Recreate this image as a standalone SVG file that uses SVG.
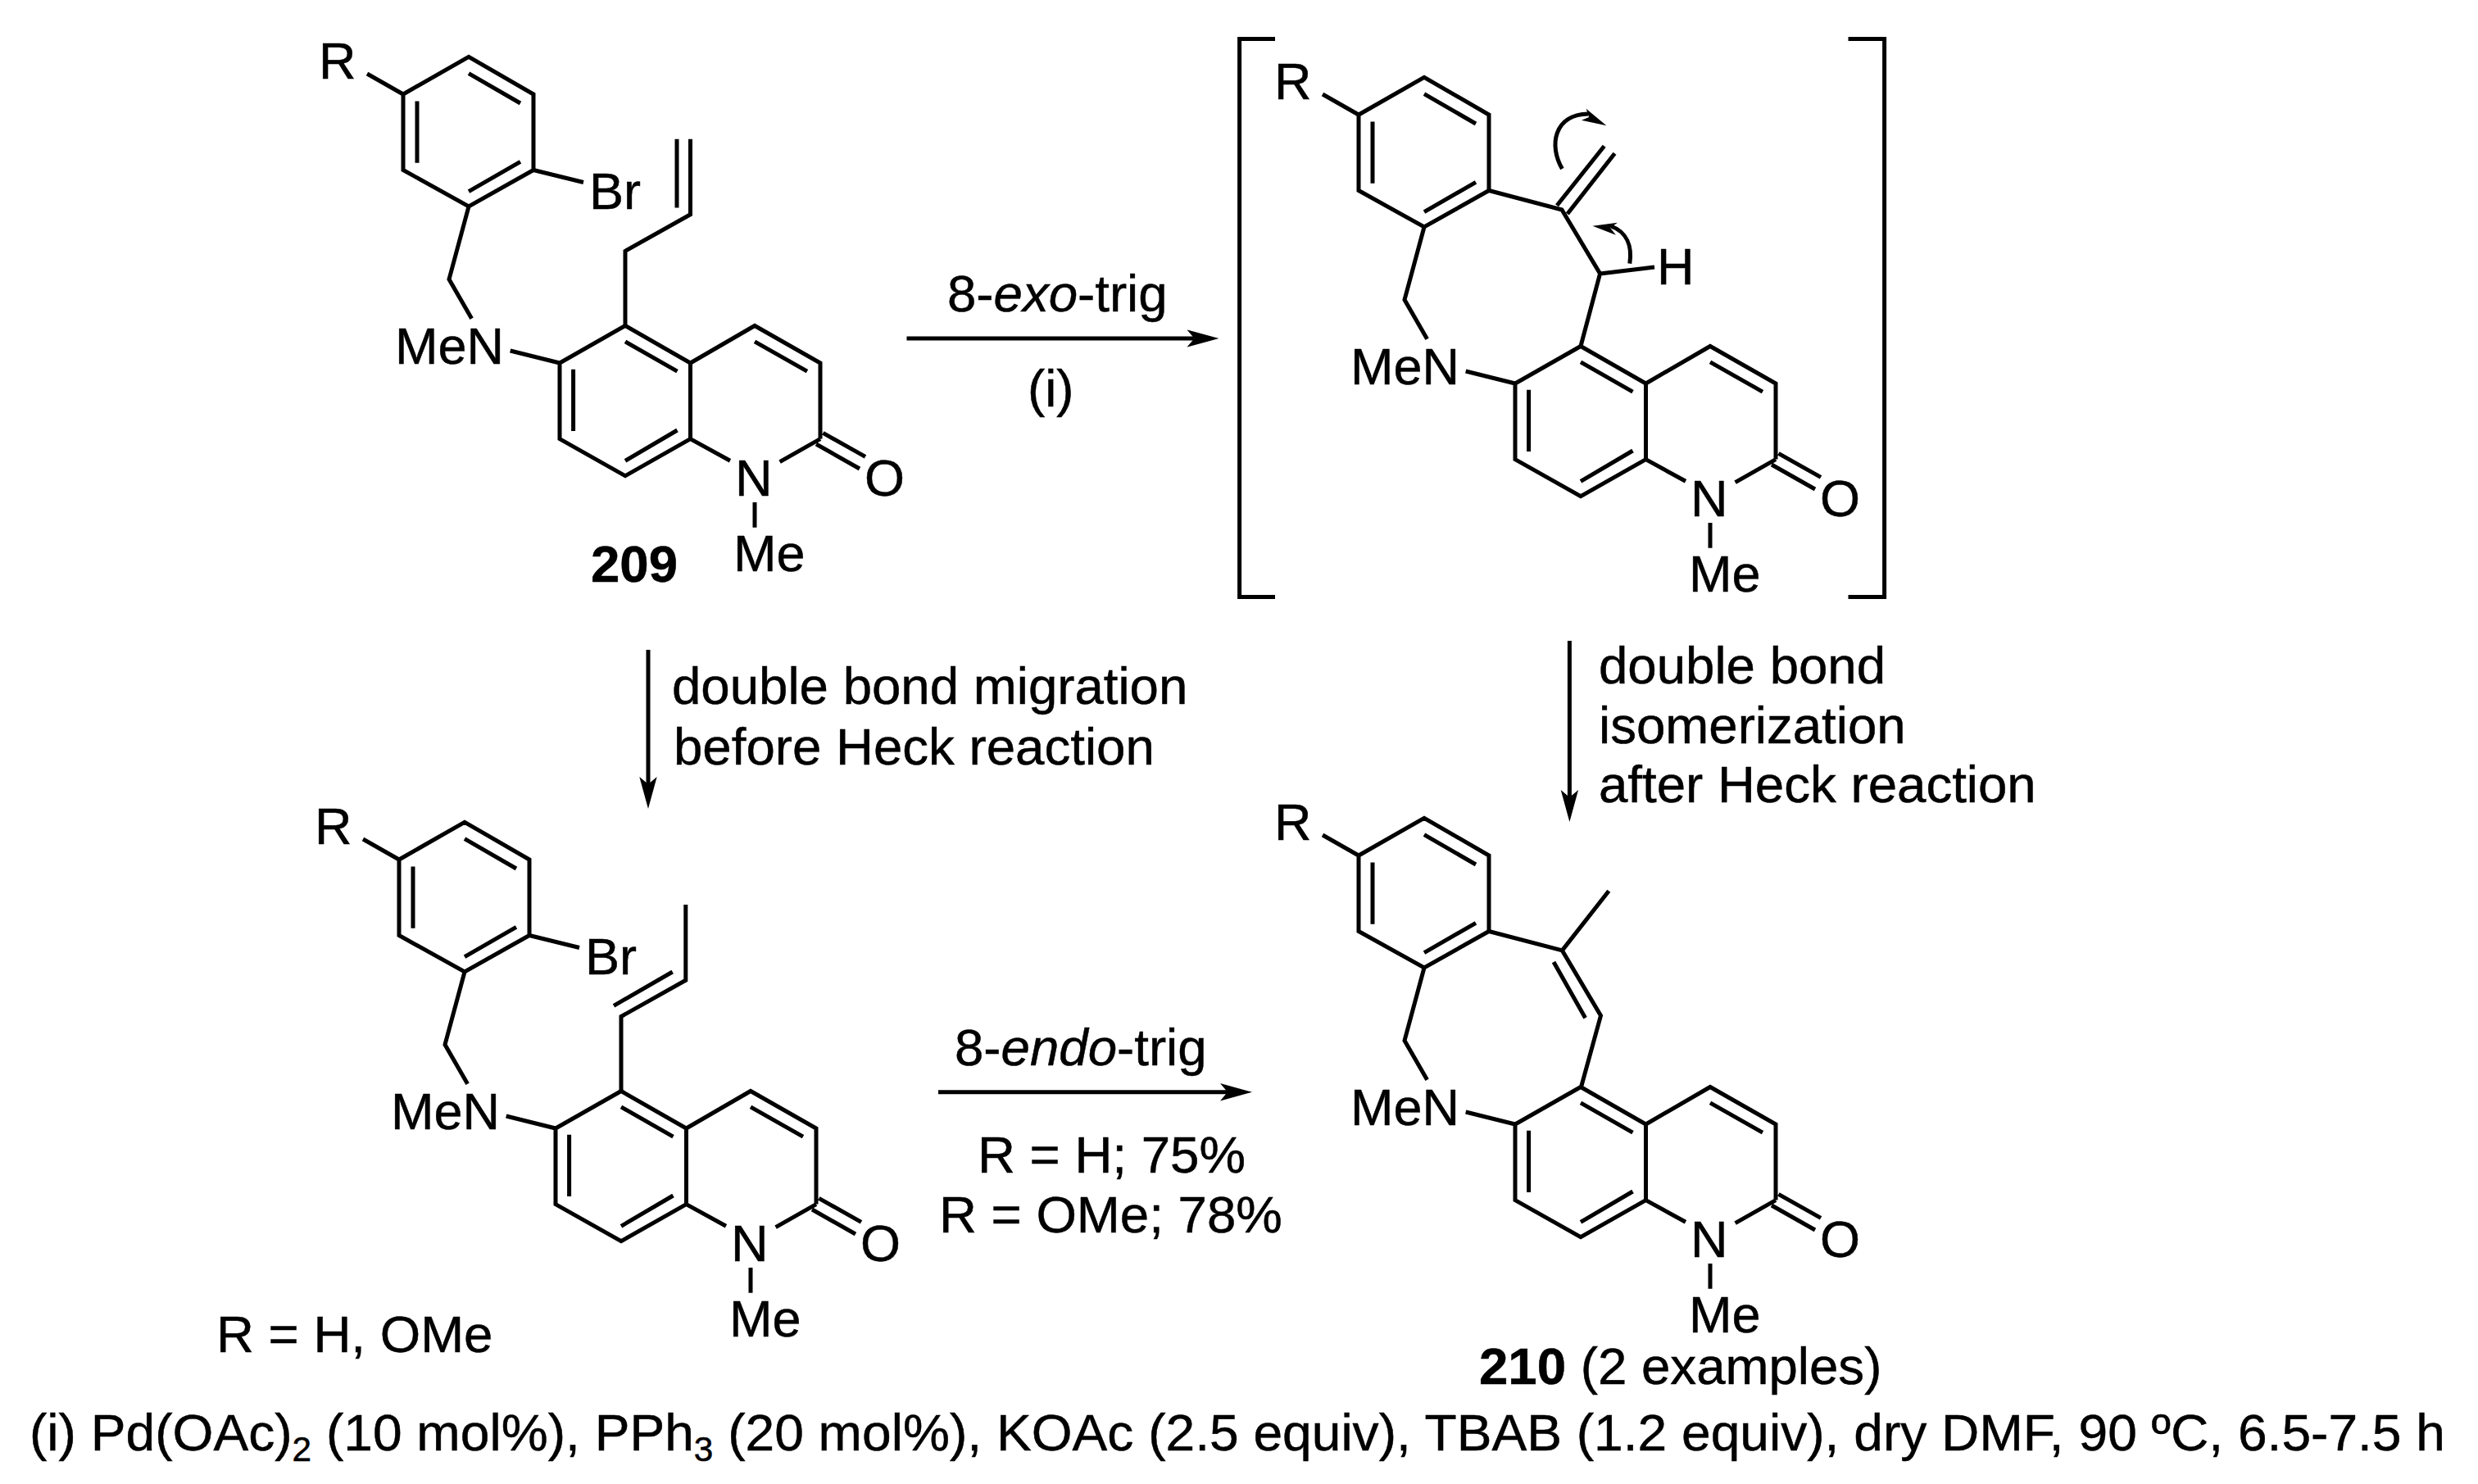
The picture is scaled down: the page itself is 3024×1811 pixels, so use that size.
<svg xmlns="http://www.w3.org/2000/svg" xmlns:xlink="http://www.w3.org/1999/xlink" width="3024" height="1811" viewBox="0 0 3024 1811">
<style>
text{font-family:"Liberation Sans",Arial,sans-serif;fill:#000;stroke:#000;stroke-width:.5}
.l{font-size:63px}
.c{font-size:63.6px}
.b{font-weight:bold}
.i{font-style:italic}
.s{font-size:42px}
.bond{fill:none;stroke:#000;stroke-width:5;stroke-linejoin:miter;stroke-linecap:butt}
.arr{fill:none;stroke:#000;stroke-width:5;marker-end:url(#head)}
.curl{fill:none;stroke:#000;stroke-width:5}
</style>
<defs>
<marker id="head" markerUnits="userSpaceOnUse" markerWidth="40" markerHeight="24" refX="9" refY="12" orient="auto"><path d="M0 1.3L39 12L0 22.7L9 12Z" fill="#000"/></marker>
<path id="core" class="bond" d="M448 90L492 115L572 69.3L651 115V207.5L572 252L492 207.5V115M572 89.7L635 126M509 123.6V198.7M572 233.6L635 197.3M572 252L548 340.8L575.6 388.8M622.7 428L683 443M763 397.5L842.5 443V535.6L763 580.7L683 535.6V443L763 397.5M842.5 443L921 397.5L1001 443V535.6M763 416.9L826.5 453.2M699.6 450.8V526M763 562.3L826.5 525M921 416.9L985 453.2M842.5 535.6L891 562.3M1001 535.6L951.6 563.7M1004.4 528.4L1056 557.4M996 542L1049 572M921 613V643.7"/>
</defs>
<rect width="3024" height="1811" fill="#fff"/>
<g id="compound-209">
<use href="#core"/>
<path class="bond" d="M651 207.5L712 222.5M763 397.5V306.4L842.5 261.8V169.7M826 169.7V253.5"/>
<text class="l" x="389" y="96">R</text>
<text class="l" x="719" y="255">Br</text>
<text class="l" x="482" y="444">MeN</text>
<text class="l" x="897" y="605">N</text>
<text class="l" x="1055" y="604.5">O</text>
<text class="l" x="895" y="697">Me</text>
<text class="c b" x="721" y="709.5">209</text>
</g>
<g id="intermediate">
<g transform="translate(1166 25)">
<use href="#core"/>
<text class="l" x="389" y="96">R</text>
<text class="l" x="482" y="444">MeN</text>
<text class="l" x="897" y="605">N</text>
<text class="l" x="1055" y="604.5">O</text>
<text class="l" x="895" y="697">Me</text>
</g>
<path class="bond" d="M1817 232.5L1906 256L1952.6 334L1929 422.5M1952.6 334L2019 326M1900 250.7L1957.7 178.3M1912.8 261L1970.5 187.3"/>
<text class="l" x="2022" y="347">H</text>
<path class="curl" d="M1906.4 206C1890 178 1896 140 1938 139"/>
<path d="M1960.4 153.3L1935.7 132.7L1939 143L1930 146.7Z" fill="#000"/>
<path class="curl" d="M1988.8 321.7C1992 300 1985 283 1966 276"/>
<path d="M1943.5 275.7L1973.9 271.7L1965 278L1971.9 286.7Z" fill="#000"/>
<path class="bond" d="M1556 47.5H1512.6V728.6H1556M2255.5 47.5H2299.6V728.6H2255.5"/>
</g>
<g id="compound-butenyl">
<g transform="translate(-5 934)">
<use href="#core"/>
<text class="l" x="389" y="96">R</text>
<text class="l" x="719" y="255">Br</text>
<text class="l" x="482" y="444">MeN</text>
<text class="l" x="897" y="605">N</text>
<text class="l" x="1055" y="604.5">O</text>
<text class="l" x="895" y="697">Me</text>
</g>
<path class="bond" d="M646 1141.5L707 1156.5M758 1331.5V1240.5L836.8 1196.2V1104M749 1227.3L820.7 1186"/>
</g>
<g id="compound-210">
<g transform="translate(1166 929)">
<use href="#core"/>
<text class="l" x="389" y="96">R</text>
<text class="l" x="482" y="444">MeN</text>
<text class="l" x="897" y="605">N</text>
<text class="l" x="1055" y="604.5">O</text>
<text class="l" x="895" y="697">Me</text>
</g>
<path class="bond" d="M1817 1136.5L1906.4 1159.9L1953.5 1239.4L1929.4 1327M1906.4 1159.9L1963.3 1087.2M1896 1174L1934.6 1242.3"/>
<text class="c" x="1805" y="1689"><tspan class="b">210</tspan> (2 examples)</text>
</g>
<g id="connectors">
<path class="arr" d="M1106.5 413H1457.5"/>
<path class="arr" d="M791 793V957"/>
<path class="arr" d="M1915.4 782V973"/>
<path class="arr" d="M1145 1332.7H1498"/>
</g>
<g id="labels">
<text class="c" x="1156" y="379.5">8-<tspan class="i">exo</tspan>-trig</text>
<text class="c" x="1254" y="496">(i)</text>
<text class="c" x="820" y="858.5">double bond migration</text>
<text class="c" x="822" y="932.5">before Heck reaction</text>
<text class="c" x="1951" y="834">double bond</text>
<text class="c" x="1951" y="906.7">isomerization</text>
<text class="c" x="1951" y="979.3">after Heck reaction</text>
<text class="c" x="1165" y="1299.5">8-<tspan class="i">endo</tspan>-trig</text>
<text class="c" x="1193" y="1431.3">R = H; 75%</text>
<text class="c" x="1146" y="1504.3">R = OMe; 78%</text>
<text class="c" x="264" y="1650">R = H, OMe</text>
<text class="c" x="36" y="1770" textLength="2948" lengthAdjust="spacingAndGlyphs">(i) Pd(OAc)<tspan class="s" dy="13">2</tspan><tspan dy="-13"> (10 mol%), PPh</tspan><tspan class="s" dy="13">3</tspan><tspan dy="-13"> (20 mol%), KOAc (2.5 equiv), TBAB (1.2 equiv), dry DMF, 90 ºC, 6.5-7.5 h</tspan></text>
</g>
</svg>
